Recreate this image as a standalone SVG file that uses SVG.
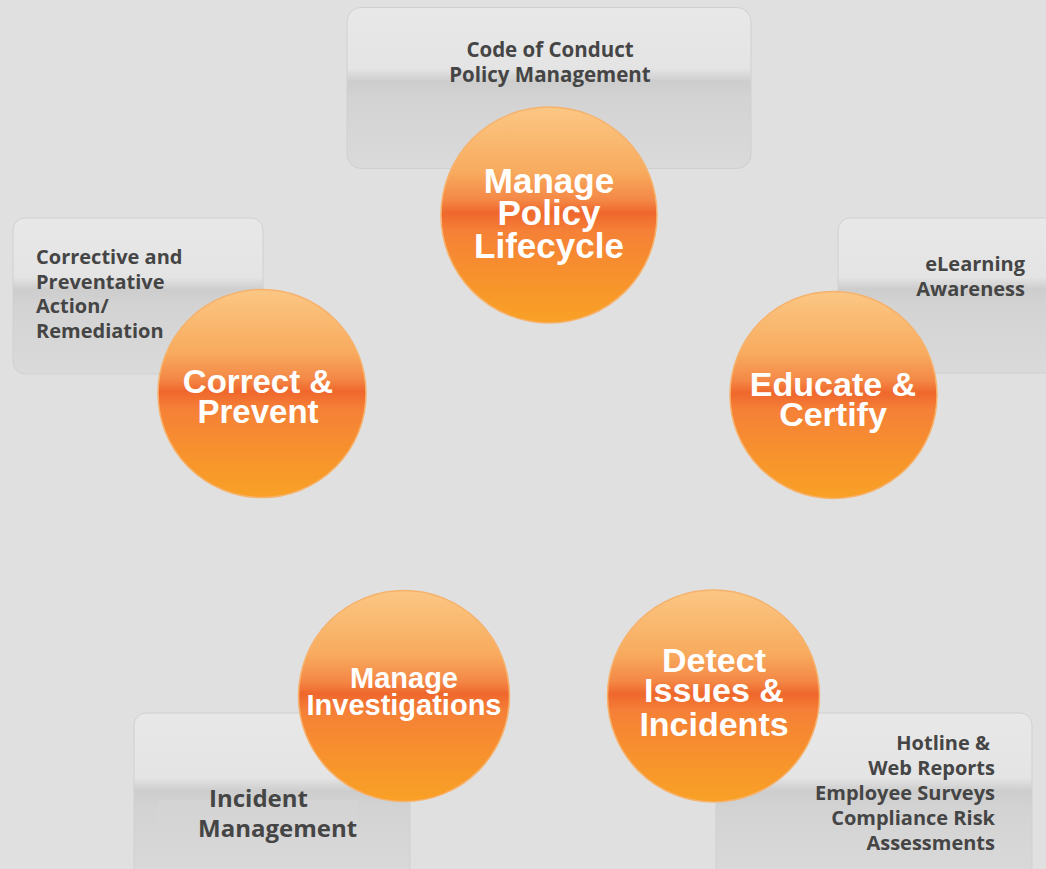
<svg xmlns="http://www.w3.org/2000/svg" width="1046" height="869" viewBox="0 0 1046 869">
<defs>
<linearGradient id="boxg" x1="0" y1="0" x2="0" y2="1">
<stop offset="0" stop-color="#e8e8e8"/>
<stop offset="0.38" stop-color="#e4e4e4"/>
<stop offset="0.46" stop-color="#cdcdcd"/>
<stop offset="0.56" stop-color="#d3d3d3"/>
<stop offset="1" stop-color="#dadada"/>
</linearGradient>
<linearGradient id="orb" x1="0" y1="0" x2="0" y2="1">
<stop offset="0" stop-color="#fbc784"/>
<stop offset="0.3" stop-color="#f8ab5e"/>
<stop offset="0.43" stop-color="#f48846"/>
<stop offset="0.49" stop-color="#ef672c"/>
<stop offset="0.57" stop-color="#f58037"/>
<stop offset="0.8" stop-color="#f7932c"/>
<stop offset="1" stop-color="#f9a126"/>
</linearGradient>
</defs>
<style>
.box{fill:url(#boxg);stroke:#d0d0d0;stroke-width:1}
.orb{fill:url(#orb);stroke:#f6b26c;stroke-width:1.5}
.ot{font-family:"Liberation Sans",Arial,sans-serif;font-weight:bold;fill:#ffffff;text-anchor:middle}
.bt{font-family:"Open Sans","Liberation Sans",sans-serif;font-weight:bold;fill:#454545;font-size:20px}
</style>
<rect width="1046" height="869" fill="#e0e0e0"/>
<g id="connectors"/>
<g id="node-policy">
<rect class="box" x="347" y="7.5" width="404" height="161" rx="14"/>
<text class="bt" style="font-size:20.5px" x="550" y="57" text-anchor="middle">Code of Conduct</text>
<text class="bt" style="font-size:20.5px" x="550" y="82" text-anchor="middle">Policy Management</text>
<circle class="orb" cx="549" cy="215" r="108"/>
<text class="ot" font-size="35" x="549" y="193">Manage</text>
<text class="ot" font-size="35" x="549" y="225">Policy</text>
<text class="ot" font-size="35" x="549" y="258">Lifecycle</text>
</g>
<g id="node-correct">
<rect class="box" x="13" y="218" width="250" height="156" rx="12"/>
<text class="bt" x="36" y="264">Corrective and</text>
<text class="bt" x="36" y="289">Preventative</text>
<text class="bt" x="36" y="313">Action/</text>
<text class="bt" x="36" y="338">Remediation</text>
<circle class="orb" cx="262" cy="393.5" r="104"/>
<text class="ot" font-size="33" x="258" y="393">Correct &amp;</text>
<text class="ot" font-size="33" x="258" y="423">Prevent</text>
</g>
<g id="node-educate">
<rect class="box" x="838" y="218" width="230" height="155" rx="12"/>
<text class="bt" x="1025" y="271" text-anchor="end">eLearning</text>
<text class="bt" x="1025" y="296" text-anchor="end">Awareness</text>
<circle class="orb" cx="833.5" cy="395" r="103.5"/>
<text class="ot" font-size="34" x="833" y="396">Educate &amp;</text>
<text class="ot" font-size="34" x="833" y="426">Certify</text>
</g>
<g id="node-investigate">
<rect class="box" x="134" y="713" width="276" height="170" rx="12"/>
<rect x="158" y="800" width="200" height="44" fill="#d6d6d6" opacity="0.6"/>
<text class="bt" style="font-size:24px" x="209" y="807">Incident</text>
<text class="bt" style="font-size:24px" x="198" y="837">Management</text>
<circle class="orb" cx="404" cy="696" r="105.5"/>
<text class="ot" font-size="29" x="404" y="688">Manage</text>
<text class="ot" font-size="29" x="404" y="715">Investigations</text>
</g>
<g id="node-detect">
<rect class="box" x="716" y="713" width="316" height="170" rx="12"/>
<text class="bt" x="990" y="750" text-anchor="end">Hotline &amp;</text>
<text class="bt" x="995" y="775" text-anchor="end">Web Reports</text>
<text class="bt" x="995" y="800" text-anchor="end">Employee Surveys</text>
<text class="bt" x="995" y="825" text-anchor="end">Compliance Risk</text>
<text class="bt" x="995" y="850" text-anchor="end">Assessments</text>
<circle class="orb" cx="713.5" cy="696" r="106"/>
<text class="ot" font-size="34" x="714" y="672">Detect</text>
<text class="ot" font-size="34" x="714" y="702">Issues &amp;</text>
<text class="ot" font-size="34" x="714" y="736">Incidents</text>
</g>
</svg>
